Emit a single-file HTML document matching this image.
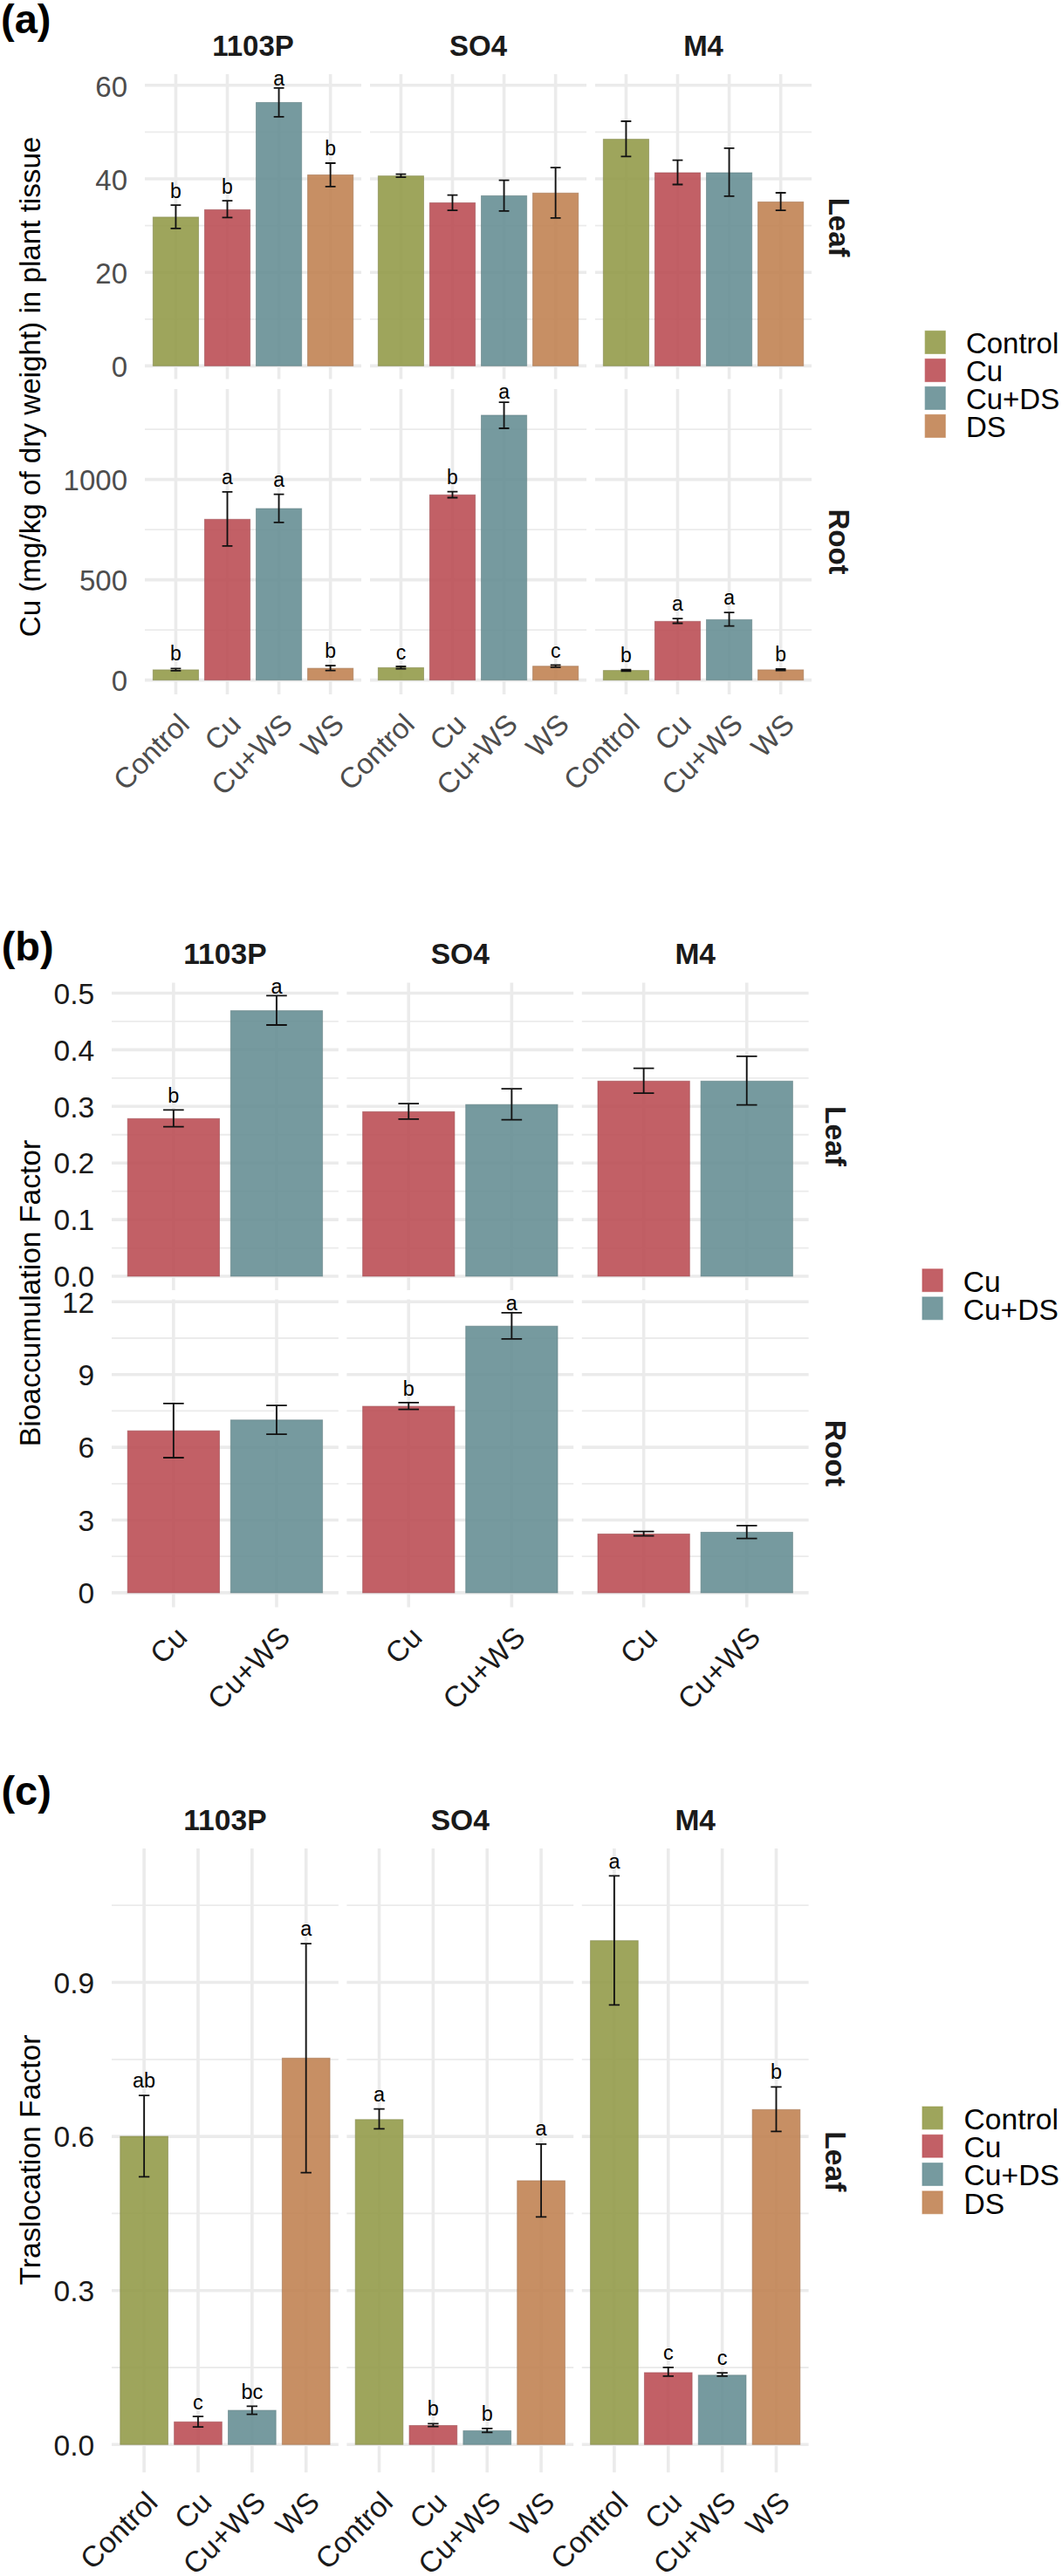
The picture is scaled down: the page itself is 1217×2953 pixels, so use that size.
<!DOCTYPE html>
<html><head><meta charset="utf-8"><title>Figure</title>
<style>
html,body{margin:0;padding:0;background:#fff;}
body{width:1217px;height:2953px;overflow:hidden;}
svg{display:block;font-family:"Liberation Sans", sans-serif;}
</style></head>
<body>
<svg width="1217" height="2953" viewBox="0 0 1217 2953">
<rect width="1217" height="2953" fill="#fff"/>
<line x1="166.00" x2="414.09" y1="365.80" y2="365.80" stroke="#EBEBEB" stroke-width="1.8"/>
<line x1="166.00" x2="414.09" y1="258.60" y2="258.60" stroke="#EBEBEB" stroke-width="1.8"/>
<line x1="166.00" x2="414.09" y1="151.40" y2="151.40" stroke="#EBEBEB" stroke-width="1.8"/>
<line x1="166.00" x2="414.09" y1="419.40" y2="419.40" stroke="#EBEBEB" stroke-width="3.6"/>
<line x1="166.00" x2="414.09" y1="312.20" y2="312.20" stroke="#EBEBEB" stroke-width="3.6"/>
<line x1="166.00" x2="414.09" y1="205.00" y2="205.00" stroke="#EBEBEB" stroke-width="3.6"/>
<line x1="166.00" x2="414.09" y1="97.80" y2="97.80" stroke="#EBEBEB" stroke-width="3.6"/>
<line x1="201.44" x2="201.44" y1="85.00" y2="434.60" stroke="#EBEBEB" stroke-width="3.6"/>
<line x1="260.51" x2="260.51" y1="85.00" y2="434.60" stroke="#EBEBEB" stroke-width="3.6"/>
<line x1="319.58" x2="319.58" y1="85.00" y2="434.60" stroke="#EBEBEB" stroke-width="3.6"/>
<line x1="378.65" x2="378.65" y1="85.00" y2="434.60" stroke="#EBEBEB" stroke-width="3.6"/>
<line x1="424.00" x2="672.09" y1="365.80" y2="365.80" stroke="#EBEBEB" stroke-width="1.8"/>
<line x1="424.00" x2="672.09" y1="258.60" y2="258.60" stroke="#EBEBEB" stroke-width="1.8"/>
<line x1="424.00" x2="672.09" y1="151.40" y2="151.40" stroke="#EBEBEB" stroke-width="1.8"/>
<line x1="424.00" x2="672.09" y1="419.40" y2="419.40" stroke="#EBEBEB" stroke-width="3.6"/>
<line x1="424.00" x2="672.09" y1="312.20" y2="312.20" stroke="#EBEBEB" stroke-width="3.6"/>
<line x1="424.00" x2="672.09" y1="205.00" y2="205.00" stroke="#EBEBEB" stroke-width="3.6"/>
<line x1="424.00" x2="672.09" y1="97.80" y2="97.80" stroke="#EBEBEB" stroke-width="3.6"/>
<line x1="459.44" x2="459.44" y1="85.00" y2="434.60" stroke="#EBEBEB" stroke-width="3.6"/>
<line x1="518.51" x2="518.51" y1="85.00" y2="434.60" stroke="#EBEBEB" stroke-width="3.6"/>
<line x1="577.58" x2="577.58" y1="85.00" y2="434.60" stroke="#EBEBEB" stroke-width="3.6"/>
<line x1="636.65" x2="636.65" y1="85.00" y2="434.60" stroke="#EBEBEB" stroke-width="3.6"/>
<line x1="682.00" x2="930.09" y1="365.80" y2="365.80" stroke="#EBEBEB" stroke-width="1.8"/>
<line x1="682.00" x2="930.09" y1="258.60" y2="258.60" stroke="#EBEBEB" stroke-width="1.8"/>
<line x1="682.00" x2="930.09" y1="151.40" y2="151.40" stroke="#EBEBEB" stroke-width="1.8"/>
<line x1="682.00" x2="930.09" y1="419.40" y2="419.40" stroke="#EBEBEB" stroke-width="3.6"/>
<line x1="682.00" x2="930.09" y1="312.20" y2="312.20" stroke="#EBEBEB" stroke-width="3.6"/>
<line x1="682.00" x2="930.09" y1="205.00" y2="205.00" stroke="#EBEBEB" stroke-width="3.6"/>
<line x1="682.00" x2="930.09" y1="97.80" y2="97.80" stroke="#EBEBEB" stroke-width="3.6"/>
<line x1="717.44" x2="717.44" y1="85.00" y2="434.60" stroke="#EBEBEB" stroke-width="3.6"/>
<line x1="776.51" x2="776.51" y1="85.00" y2="434.60" stroke="#EBEBEB" stroke-width="3.6"/>
<line x1="835.58" x2="835.58" y1="85.00" y2="434.60" stroke="#EBEBEB" stroke-width="3.6"/>
<line x1="894.65" x2="894.65" y1="85.00" y2="434.60" stroke="#EBEBEB" stroke-width="3.6"/>
<rect x="175.36" y="248.90" width="52.16" height="170.50" fill="#919946" fill-opacity="0.88" stroke="#82874B" stroke-opacity="0.6" stroke-width="1.0"/>
<path d="M195.53 235.20H207.35M201.44 235.20V261.90M195.53 261.90H207.35" stroke="#111" stroke-width="1.8" fill="none"/>
<text x="201.44" y="226.90" font-size="23.0" text-anchor="middle" fill="#000">b</text>
<rect x="234.43" y="240.40" width="52.16" height="179.00" fill="#B94A51" fill-opacity="0.88" stroke="#9E4F54" stroke-opacity="0.6" stroke-width="1.0"/>
<path d="M254.60 230.10H266.42M260.51 230.10V249.40M254.60 249.40H266.42" stroke="#111" stroke-width="1.8" fill="none"/>
<text x="260.51" y="221.80" font-size="23.0" text-anchor="middle" fill="#000">b</text>
<rect x="293.50" y="117.50" width="52.16" height="301.90" fill="#638C92" fill-opacity="0.88" stroke="#617E82" stroke-opacity="0.6" stroke-width="1.0"/>
<path d="M313.68 100.80H325.49M319.58 100.80V133.90M313.68 133.90H325.49" stroke="#111" stroke-width="1.8" fill="none"/>
<text x="319.58" y="97.60" font-size="23.0" text-anchor="middle" fill="#000">a</text>
<rect x="352.57" y="200.50" width="52.16" height="218.90" fill="#BF7F4E" fill-opacity="0.88" stroke="#A37451" stroke-opacity="0.6" stroke-width="1.0"/>
<path d="M372.75 187.00H384.56M378.65 187.00V213.90M372.75 213.90H384.56" stroke="#111" stroke-width="1.8" fill="none"/>
<text x="378.65" y="177.90" font-size="23.0" text-anchor="middle" fill="#000">b</text>
<rect x="433.36" y="201.70" width="52.16" height="217.70" fill="#919946" fill-opacity="0.88" stroke="#82874B" stroke-opacity="0.6" stroke-width="1.0"/>
<path d="M453.54 199.70H465.35M459.44 199.70V203.10M453.54 203.10H465.35" stroke="#111" stroke-width="1.8" fill="none"/>
<rect x="492.43" y="232.50" width="52.16" height="186.90" fill="#B94A51" fill-opacity="0.88" stroke="#9E4F54" stroke-opacity="0.6" stroke-width="1.0"/>
<path d="M512.61 223.70H524.42M518.51 223.70V241.10M512.61 241.10H524.42" stroke="#111" stroke-width="1.8" fill="none"/>
<rect x="551.50" y="224.40" width="52.16" height="195.00" fill="#638C92" fill-opacity="0.88" stroke="#617E82" stroke-opacity="0.6" stroke-width="1.0"/>
<path d="M571.67 206.60H583.49M577.58 206.60V241.80M571.67 241.80H583.49" stroke="#111" stroke-width="1.8" fill="none"/>
<rect x="610.57" y="221.30" width="52.16" height="198.10" fill="#BF7F4E" fill-opacity="0.88" stroke="#A37451" stroke-opacity="0.6" stroke-width="1.0"/>
<path d="M630.75 192.10H642.56M636.65 192.10V249.90M630.75 249.90H642.56" stroke="#111" stroke-width="1.8" fill="none"/>
<rect x="691.36" y="159.60" width="52.16" height="259.80" fill="#919946" fill-opacity="0.88" stroke="#82874B" stroke-opacity="0.6" stroke-width="1.0"/>
<path d="M711.53 139.00H723.35M717.44 139.00V179.40M711.53 179.40H723.35" stroke="#111" stroke-width="1.8" fill="none"/>
<rect x="750.43" y="198.00" width="52.16" height="221.40" fill="#B94A51" fill-opacity="0.88" stroke="#9E4F54" stroke-opacity="0.6" stroke-width="1.0"/>
<path d="M770.61 183.60H782.42M776.51 183.60V211.50M770.61 211.50H782.42" stroke="#111" stroke-width="1.8" fill="none"/>
<rect x="809.50" y="198.00" width="52.16" height="221.40" fill="#638C92" fill-opacity="0.88" stroke="#617E82" stroke-opacity="0.6" stroke-width="1.0"/>
<path d="M829.67 169.80H841.49M835.58 169.80V224.90M829.67 224.90H841.49" stroke="#111" stroke-width="1.8" fill="none"/>
<rect x="868.57" y="231.50" width="52.16" height="187.90" fill="#BF7F4E" fill-opacity="0.88" stroke="#A37451" stroke-opacity="0.6" stroke-width="1.0"/>
<path d="M888.75 221.00H900.56M894.65 221.00V241.10M888.75 241.10H900.56" stroke="#111" stroke-width="1.8" fill="none"/>
<line x1="166.00" x2="414.09" y1="722.10" y2="722.10" stroke="#EBEBEB" stroke-width="1.8"/>
<line x1="166.00" x2="414.09" y1="607.10" y2="607.10" stroke="#EBEBEB" stroke-width="1.8"/>
<line x1="166.00" x2="414.09" y1="492.10" y2="492.10" stroke="#EBEBEB" stroke-width="1.8"/>
<line x1="166.00" x2="414.09" y1="779.60" y2="779.60" stroke="#EBEBEB" stroke-width="3.6"/>
<line x1="166.00" x2="414.09" y1="664.60" y2="664.60" stroke="#EBEBEB" stroke-width="3.6"/>
<line x1="166.00" x2="414.09" y1="549.60" y2="549.60" stroke="#EBEBEB" stroke-width="3.6"/>
<line x1="201.44" x2="201.44" y1="445.90" y2="796.00" stroke="#EBEBEB" stroke-width="3.6"/>
<line x1="260.51" x2="260.51" y1="445.90" y2="796.00" stroke="#EBEBEB" stroke-width="3.6"/>
<line x1="319.58" x2="319.58" y1="445.90" y2="796.00" stroke="#EBEBEB" stroke-width="3.6"/>
<line x1="378.65" x2="378.65" y1="445.90" y2="796.00" stroke="#EBEBEB" stroke-width="3.6"/>
<line x1="424.00" x2="672.09" y1="722.10" y2="722.10" stroke="#EBEBEB" stroke-width="1.8"/>
<line x1="424.00" x2="672.09" y1="607.10" y2="607.10" stroke="#EBEBEB" stroke-width="1.8"/>
<line x1="424.00" x2="672.09" y1="492.10" y2="492.10" stroke="#EBEBEB" stroke-width="1.8"/>
<line x1="424.00" x2="672.09" y1="779.60" y2="779.60" stroke="#EBEBEB" stroke-width="3.6"/>
<line x1="424.00" x2="672.09" y1="664.60" y2="664.60" stroke="#EBEBEB" stroke-width="3.6"/>
<line x1="424.00" x2="672.09" y1="549.60" y2="549.60" stroke="#EBEBEB" stroke-width="3.6"/>
<line x1="459.44" x2="459.44" y1="445.90" y2="796.00" stroke="#EBEBEB" stroke-width="3.6"/>
<line x1="518.51" x2="518.51" y1="445.90" y2="796.00" stroke="#EBEBEB" stroke-width="3.6"/>
<line x1="577.58" x2="577.58" y1="445.90" y2="796.00" stroke="#EBEBEB" stroke-width="3.6"/>
<line x1="636.65" x2="636.65" y1="445.90" y2="796.00" stroke="#EBEBEB" stroke-width="3.6"/>
<line x1="682.00" x2="930.09" y1="722.10" y2="722.10" stroke="#EBEBEB" stroke-width="1.8"/>
<line x1="682.00" x2="930.09" y1="607.10" y2="607.10" stroke="#EBEBEB" stroke-width="1.8"/>
<line x1="682.00" x2="930.09" y1="492.10" y2="492.10" stroke="#EBEBEB" stroke-width="1.8"/>
<line x1="682.00" x2="930.09" y1="779.60" y2="779.60" stroke="#EBEBEB" stroke-width="3.6"/>
<line x1="682.00" x2="930.09" y1="664.60" y2="664.60" stroke="#EBEBEB" stroke-width="3.6"/>
<line x1="682.00" x2="930.09" y1="549.60" y2="549.60" stroke="#EBEBEB" stroke-width="3.6"/>
<line x1="717.44" x2="717.44" y1="445.90" y2="796.00" stroke="#EBEBEB" stroke-width="3.6"/>
<line x1="776.51" x2="776.51" y1="445.90" y2="796.00" stroke="#EBEBEB" stroke-width="3.6"/>
<line x1="835.58" x2="835.58" y1="445.90" y2="796.00" stroke="#EBEBEB" stroke-width="3.6"/>
<line x1="894.65" x2="894.65" y1="445.90" y2="796.00" stroke="#EBEBEB" stroke-width="3.6"/>
<rect x="175.36" y="767.90" width="52.16" height="11.70" fill="#919946" fill-opacity="0.88" stroke="#82874B" stroke-opacity="0.6" stroke-width="1.0"/>
<path d="M195.53 766.40H207.35M201.44 766.40V768.80M195.53 768.80H207.35" stroke="#111" stroke-width="1.8" fill="none"/>
<text x="201.44" y="757.30" font-size="23.0" text-anchor="middle" fill="#000">b</text>
<rect x="234.43" y="595.30" width="52.16" height="184.30" fill="#B94A51" fill-opacity="0.88" stroke="#9E4F54" stroke-opacity="0.6" stroke-width="1.0"/>
<path d="M254.60 563.90H266.42M260.51 563.90V625.90M254.60 625.90H266.42" stroke="#111" stroke-width="1.8" fill="none"/>
<text x="260.51" y="555.40" font-size="23.0" text-anchor="middle" fill="#000">a</text>
<rect x="293.50" y="583.00" width="52.16" height="196.60" fill="#638C92" fill-opacity="0.88" stroke="#617E82" stroke-opacity="0.6" stroke-width="1.0"/>
<path d="M313.68 566.60H325.49M319.58 566.60V598.90M313.68 598.90H325.49" stroke="#111" stroke-width="1.8" fill="none"/>
<text x="319.58" y="557.80" font-size="23.0" text-anchor="middle" fill="#000">a</text>
<rect x="352.57" y="766.10" width="52.16" height="13.50" fill="#BF7F4E" fill-opacity="0.88" stroke="#A37451" stroke-opacity="0.6" stroke-width="1.0"/>
<path d="M372.75 763.00H384.56M378.65 763.00V768.60M372.75 768.60H384.56" stroke="#111" stroke-width="1.8" fill="none"/>
<text x="378.65" y="754.20" font-size="23.0" text-anchor="middle" fill="#000">b</text>
<rect x="433.36" y="765.40" width="52.16" height="14.20" fill="#919946" fill-opacity="0.88" stroke="#82874B" stroke-opacity="0.6" stroke-width="1.0"/>
<path d="M453.54 764.00H465.35M459.44 764.00V766.60M453.54 766.60H465.35" stroke="#111" stroke-width="1.8" fill="none"/>
<text x="459.44" y="755.60" font-size="23.0" text-anchor="middle" fill="#000">c</text>
<rect x="492.43" y="567.30" width="52.16" height="212.30" fill="#B94A51" fill-opacity="0.88" stroke="#9E4F54" stroke-opacity="0.6" stroke-width="1.0"/>
<path d="M512.61 563.70H524.42M518.51 563.70V570.50M512.61 570.50H524.42" stroke="#111" stroke-width="1.8" fill="none"/>
<text x="518.51" y="554.90" font-size="23.0" text-anchor="middle" fill="#000">b</text>
<rect x="551.50" y="476.00" width="52.16" height="303.60" fill="#638C92" fill-opacity="0.88" stroke="#617E82" stroke-opacity="0.6" stroke-width="1.0"/>
<path d="M571.67 461.10H583.49M577.58 461.10V491.00M571.67 491.00H583.49" stroke="#111" stroke-width="1.8" fill="none"/>
<text x="577.58" y="457.40" font-size="23.0" text-anchor="middle" fill="#000">a</text>
<rect x="610.57" y="763.70" width="52.16" height="15.90" fill="#BF7F4E" fill-opacity="0.88" stroke="#A37451" stroke-opacity="0.6" stroke-width="1.0"/>
<path d="M630.75 762.40H642.56M636.65 762.40V764.80M630.75 764.80H642.56" stroke="#111" stroke-width="1.8" fill="none"/>
<text x="636.65" y="754.20" font-size="23.0" text-anchor="middle" fill="#000">c</text>
<rect x="691.36" y="768.60" width="52.16" height="11.00" fill="#919946" fill-opacity="0.88" stroke="#82874B" stroke-opacity="0.6" stroke-width="1.0"/>
<path d="M711.53 767.60H723.35M717.44 767.60V769.40M711.53 769.40H723.35" stroke="#111" stroke-width="1.8" fill="none"/>
<text x="717.44" y="758.60" font-size="23.0" text-anchor="middle" fill="#000">b</text>
<rect x="750.43" y="712.30" width="52.16" height="67.30" fill="#B94A51" fill-opacity="0.88" stroke="#9E4F54" stroke-opacity="0.6" stroke-width="1.0"/>
<path d="M770.61 709.10H782.42M776.51 709.10V714.50M770.61 714.50H782.42" stroke="#111" stroke-width="1.8" fill="none"/>
<text x="776.51" y="700.30" font-size="23.0" text-anchor="middle" fill="#000">a</text>
<rect x="809.50" y="710.30" width="52.16" height="69.30" fill="#638C92" fill-opacity="0.88" stroke="#617E82" stroke-opacity="0.6" stroke-width="1.0"/>
<path d="M829.67 702.20H841.49M835.58 702.20V717.70M829.67 717.70H841.49" stroke="#111" stroke-width="1.8" fill="none"/>
<text x="835.58" y="693.00" font-size="23.0" text-anchor="middle" fill="#000">a</text>
<rect x="868.57" y="767.90" width="52.16" height="11.70" fill="#BF7F4E" fill-opacity="0.88" stroke="#A37451" stroke-opacity="0.6" stroke-width="1.0"/>
<path d="M888.75 766.90H900.56M894.65 766.90V768.60M888.75 768.60H900.56" stroke="#111" stroke-width="1.8" fill="none"/>
<text x="894.65" y="757.80" font-size="23.0" text-anchor="middle" fill="#000">b</text>
<text x="146.00" y="420.40" font-size="33" text-anchor="end" fill="#4D4D4D" dy="0.36em">0</text>
<text x="146.00" y="313.20" font-size="33" text-anchor="end" fill="#4D4D4D" dy="0.36em">20</text>
<text x="146.00" y="206.00" font-size="33" text-anchor="end" fill="#4D4D4D" dy="0.36em">40</text>
<text x="146.00" y="98.80" font-size="33" text-anchor="end" fill="#4D4D4D" dy="0.36em">60</text>
<text x="146.00" y="780.60" font-size="33" text-anchor="end" fill="#4D4D4D" dy="0.36em">0</text>
<text x="146.00" y="665.60" font-size="33" text-anchor="end" fill="#4D4D4D" dy="0.36em">500</text>
<text x="146.00" y="550.60" font-size="33" text-anchor="end" fill="#4D4D4D" dy="0.36em">1000</text>
<text transform="translate(218.94,832.40) rotate(-45)" font-size="33" text-anchor="end" fill="#4D4D4D">Control</text>
<text transform="translate(278.01,832.40) rotate(-45)" font-size="33" text-anchor="end" fill="#4D4D4D">Cu</text>
<text transform="translate(337.08,832.40) rotate(-45)" font-size="33" text-anchor="end" fill="#4D4D4D">Cu+WS</text>
<text transform="translate(396.15,832.40) rotate(-45)" font-size="33" text-anchor="end" fill="#4D4D4D">WS</text>
<text transform="translate(476.94,832.40) rotate(-45)" font-size="33" text-anchor="end" fill="#4D4D4D">Control</text>
<text transform="translate(536.01,832.40) rotate(-45)" font-size="33" text-anchor="end" fill="#4D4D4D">Cu</text>
<text transform="translate(595.08,832.40) rotate(-45)" font-size="33" text-anchor="end" fill="#4D4D4D">Cu+WS</text>
<text transform="translate(654.15,832.40) rotate(-45)" font-size="33" text-anchor="end" fill="#4D4D4D">WS</text>
<text transform="translate(734.94,832.40) rotate(-45)" font-size="33" text-anchor="end" fill="#4D4D4D">Control</text>
<text transform="translate(794.01,832.40) rotate(-45)" font-size="33" text-anchor="end" fill="#4D4D4D">Cu</text>
<text transform="translate(853.08,832.40) rotate(-45)" font-size="33" text-anchor="end" fill="#4D4D4D">Cu+WS</text>
<text transform="translate(912.15,832.40) rotate(-45)" font-size="33" text-anchor="end" fill="#4D4D4D">WS</text>
<text x="290.05" y="64.20" font-size="33" font-weight="bold" text-anchor="middle" fill="#1A1A1A">1103P</text>
<text x="548.05" y="64.20" font-size="33" font-weight="bold" text-anchor="middle" fill="#1A1A1A">SO4</text>
<text x="806.05" y="64.20" font-size="33" font-weight="bold" text-anchor="middle" fill="#1A1A1A">M4</text>
<text transform="translate(950.10,260.60) rotate(90)" font-size="33" font-weight="bold" text-anchor="middle" fill="#1A1A1A">Leaf</text>
<text transform="translate(950.10,621.00) rotate(90)" font-size="33" font-weight="bold" text-anchor="middle" fill="#1A1A1A">Root</text>
<text transform="translate(45.90,443.50) rotate(-90)" font-size="33.2" text-anchor="middle" fill="#000">Cu (mg/kg of dry weight) in plant tissue</text>
<text x="1.00" y="38.30" font-size="47" font-weight="bold" fill="#000">(a)</text>
<rect x="1060.20" y="379.40" width="23.10" height="26.00" fill="#919946" fill-opacity="0.88" stroke="#919946" stroke-opacity="0.55" stroke-width="1.2"/>
<text x="1106.90" y="404.90" font-size="33" fill="#000">Control</text>
<rect x="1060.20" y="411.50" width="23.10" height="26.00" fill="#B94A51" fill-opacity="0.88" stroke="#B94A51" stroke-opacity="0.55" stroke-width="1.2"/>
<text x="1106.90" y="436.80" font-size="33" fill="#000">Cu</text>
<rect x="1060.20" y="443.40" width="23.10" height="26.00" fill="#638C92" fill-opacity="0.88" stroke="#638C92" stroke-opacity="0.55" stroke-width="1.2"/>
<text x="1106.90" y="468.80" font-size="33" fill="#000">Cu+DS</text>
<rect x="1060.20" y="475.40" width="23.10" height="26.00" fill="#BF7F4E" fill-opacity="0.88" stroke="#BF7F4E" stroke-opacity="0.55" stroke-width="1.2"/>
<text x="1106.90" y="500.50" font-size="33" fill="#000">DS</text>
<line x1="128.00" x2="387.82" y1="1430.55" y2="1430.55" stroke="#EBEBEB" stroke-width="1.8"/>
<line x1="128.00" x2="387.82" y1="1365.65" y2="1365.65" stroke="#EBEBEB" stroke-width="1.8"/>
<line x1="128.00" x2="387.82" y1="1300.75" y2="1300.75" stroke="#EBEBEB" stroke-width="1.8"/>
<line x1="128.00" x2="387.82" y1="1235.85" y2="1235.85" stroke="#EBEBEB" stroke-width="1.8"/>
<line x1="128.00" x2="387.82" y1="1170.95" y2="1170.95" stroke="#EBEBEB" stroke-width="1.8"/>
<line x1="128.00" x2="387.82" y1="1463.00" y2="1463.00" stroke="#EBEBEB" stroke-width="3.6"/>
<line x1="128.00" x2="387.82" y1="1398.10" y2="1398.10" stroke="#EBEBEB" stroke-width="3.6"/>
<line x1="128.00" x2="387.82" y1="1333.20" y2="1333.20" stroke="#EBEBEB" stroke-width="3.6"/>
<line x1="128.00" x2="387.82" y1="1268.30" y2="1268.30" stroke="#EBEBEB" stroke-width="3.6"/>
<line x1="128.00" x2="387.82" y1="1203.40" y2="1203.40" stroke="#EBEBEB" stroke-width="3.6"/>
<line x1="128.00" x2="387.82" y1="1138.50" y2="1138.50" stroke="#EBEBEB" stroke-width="3.6"/>
<line x1="198.86" x2="198.86" y1="1126.40" y2="1479.10" stroke="#EBEBEB" stroke-width="3.6"/>
<line x1="316.96" x2="316.96" y1="1126.40" y2="1479.10" stroke="#EBEBEB" stroke-width="3.6"/>
<line x1="397.40" x2="657.22" y1="1430.55" y2="1430.55" stroke="#EBEBEB" stroke-width="1.8"/>
<line x1="397.40" x2="657.22" y1="1365.65" y2="1365.65" stroke="#EBEBEB" stroke-width="1.8"/>
<line x1="397.40" x2="657.22" y1="1300.75" y2="1300.75" stroke="#EBEBEB" stroke-width="1.8"/>
<line x1="397.40" x2="657.22" y1="1235.85" y2="1235.85" stroke="#EBEBEB" stroke-width="1.8"/>
<line x1="397.40" x2="657.22" y1="1170.95" y2="1170.95" stroke="#EBEBEB" stroke-width="1.8"/>
<line x1="397.40" x2="657.22" y1="1463.00" y2="1463.00" stroke="#EBEBEB" stroke-width="3.6"/>
<line x1="397.40" x2="657.22" y1="1398.10" y2="1398.10" stroke="#EBEBEB" stroke-width="3.6"/>
<line x1="397.40" x2="657.22" y1="1333.20" y2="1333.20" stroke="#EBEBEB" stroke-width="3.6"/>
<line x1="397.40" x2="657.22" y1="1268.30" y2="1268.30" stroke="#EBEBEB" stroke-width="3.6"/>
<line x1="397.40" x2="657.22" y1="1203.40" y2="1203.40" stroke="#EBEBEB" stroke-width="3.6"/>
<line x1="397.40" x2="657.22" y1="1138.50" y2="1138.50" stroke="#EBEBEB" stroke-width="3.6"/>
<line x1="468.26" x2="468.26" y1="1126.40" y2="1479.10" stroke="#EBEBEB" stroke-width="3.6"/>
<line x1="586.36" x2="586.36" y1="1126.40" y2="1479.10" stroke="#EBEBEB" stroke-width="3.6"/>
<line x1="666.80" x2="926.62" y1="1430.55" y2="1430.55" stroke="#EBEBEB" stroke-width="1.8"/>
<line x1="666.80" x2="926.62" y1="1365.65" y2="1365.65" stroke="#EBEBEB" stroke-width="1.8"/>
<line x1="666.80" x2="926.62" y1="1300.75" y2="1300.75" stroke="#EBEBEB" stroke-width="1.8"/>
<line x1="666.80" x2="926.62" y1="1235.85" y2="1235.85" stroke="#EBEBEB" stroke-width="1.8"/>
<line x1="666.80" x2="926.62" y1="1170.95" y2="1170.95" stroke="#EBEBEB" stroke-width="1.8"/>
<line x1="666.80" x2="926.62" y1="1463.00" y2="1463.00" stroke="#EBEBEB" stroke-width="3.6"/>
<line x1="666.80" x2="926.62" y1="1398.10" y2="1398.10" stroke="#EBEBEB" stroke-width="3.6"/>
<line x1="666.80" x2="926.62" y1="1333.20" y2="1333.20" stroke="#EBEBEB" stroke-width="3.6"/>
<line x1="666.80" x2="926.62" y1="1268.30" y2="1268.30" stroke="#EBEBEB" stroke-width="3.6"/>
<line x1="666.80" x2="926.62" y1="1203.40" y2="1203.40" stroke="#EBEBEB" stroke-width="3.6"/>
<line x1="666.80" x2="926.62" y1="1138.50" y2="1138.50" stroke="#EBEBEB" stroke-width="3.6"/>
<line x1="737.66" x2="737.66" y1="1126.40" y2="1479.10" stroke="#EBEBEB" stroke-width="3.6"/>
<line x1="855.76" x2="855.76" y1="1126.40" y2="1479.10" stroke="#EBEBEB" stroke-width="3.6"/>
<rect x="146.22" y="1282.30" width="105.29" height="180.70" fill="#B94A51" fill-opacity="0.88" stroke="#9E4F54" stroke-opacity="0.6" stroke-width="1.0"/>
<path d="M187.05 1272.40H210.67M198.86 1272.40V1291.60M187.05 1291.60H210.67" stroke="#111" stroke-width="1.8" fill="none"/>
<text x="198.86" y="1263.90" font-size="23.5" text-anchor="middle" fill="#000">b</text>
<rect x="264.32" y="1158.60" width="105.29" height="304.40" fill="#638C92" fill-opacity="0.88" stroke="#617E82" stroke-opacity="0.6" stroke-width="1.0"/>
<path d="M305.15 1141.40H328.77M316.96 1141.40V1175.00M305.15 1175.00H328.77" stroke="#111" stroke-width="1.8" fill="none"/>
<text x="316.96" y="1138.70" font-size="23.5" text-anchor="middle" fill="#000">a</text>
<rect x="415.62" y="1274.40" width="105.29" height="188.60" fill="#B94A51" fill-opacity="0.88" stroke="#9E4F54" stroke-opacity="0.6" stroke-width="1.0"/>
<path d="M456.45 1265.10H480.07M468.26 1265.10V1282.90M456.45 1282.90H480.07" stroke="#111" stroke-width="1.8" fill="none"/>
<rect x="533.72" y="1266.20" width="105.29" height="196.80" fill="#638C92" fill-opacity="0.88" stroke="#617E82" stroke-opacity="0.6" stroke-width="1.0"/>
<path d="M574.55 1248.10H598.17M586.36 1248.10V1283.70M574.55 1283.70H598.17" stroke="#111" stroke-width="1.8" fill="none"/>
<rect x="685.01" y="1239.30" width="105.29" height="223.70" fill="#B94A51" fill-opacity="0.88" stroke="#9E4F54" stroke-opacity="0.6" stroke-width="1.0"/>
<path d="M725.85 1224.60H749.47M737.66 1224.60V1253.20M725.85 1253.20H749.47" stroke="#111" stroke-width="1.8" fill="none"/>
<rect x="803.12" y="1239.30" width="105.29" height="223.70" fill="#638C92" fill-opacity="0.88" stroke="#617E82" stroke-opacity="0.6" stroke-width="1.0"/>
<path d="M843.95 1210.80H867.57M855.76 1210.80V1266.70M843.95 1266.70H867.57" stroke="#111" stroke-width="1.8" fill="none"/>
<line x1="128.00" x2="387.82" y1="1784.20" y2="1784.20" stroke="#EBEBEB" stroke-width="1.8"/>
<line x1="128.00" x2="387.82" y1="1700.80" y2="1700.80" stroke="#EBEBEB" stroke-width="1.8"/>
<line x1="128.00" x2="387.82" y1="1617.40" y2="1617.40" stroke="#EBEBEB" stroke-width="1.8"/>
<line x1="128.00" x2="387.82" y1="1534.00" y2="1534.00" stroke="#EBEBEB" stroke-width="1.8"/>
<line x1="128.00" x2="387.82" y1="1825.90" y2="1825.90" stroke="#EBEBEB" stroke-width="3.6"/>
<line x1="128.00" x2="387.82" y1="1742.50" y2="1742.50" stroke="#EBEBEB" stroke-width="3.6"/>
<line x1="128.00" x2="387.82" y1="1659.10" y2="1659.10" stroke="#EBEBEB" stroke-width="3.6"/>
<line x1="128.00" x2="387.82" y1="1575.70" y2="1575.70" stroke="#EBEBEB" stroke-width="3.6"/>
<line x1="128.00" x2="387.82" y1="1492.30" y2="1492.30" stroke="#EBEBEB" stroke-width="3.6"/>
<line x1="198.86" x2="198.86" y1="1489.50" y2="1842.60" stroke="#EBEBEB" stroke-width="3.6"/>
<line x1="316.96" x2="316.96" y1="1489.50" y2="1842.60" stroke="#EBEBEB" stroke-width="3.6"/>
<line x1="397.40" x2="657.22" y1="1784.20" y2="1784.20" stroke="#EBEBEB" stroke-width="1.8"/>
<line x1="397.40" x2="657.22" y1="1700.80" y2="1700.80" stroke="#EBEBEB" stroke-width="1.8"/>
<line x1="397.40" x2="657.22" y1="1617.40" y2="1617.40" stroke="#EBEBEB" stroke-width="1.8"/>
<line x1="397.40" x2="657.22" y1="1534.00" y2="1534.00" stroke="#EBEBEB" stroke-width="1.8"/>
<line x1="397.40" x2="657.22" y1="1825.90" y2="1825.90" stroke="#EBEBEB" stroke-width="3.6"/>
<line x1="397.40" x2="657.22" y1="1742.50" y2="1742.50" stroke="#EBEBEB" stroke-width="3.6"/>
<line x1="397.40" x2="657.22" y1="1659.10" y2="1659.10" stroke="#EBEBEB" stroke-width="3.6"/>
<line x1="397.40" x2="657.22" y1="1575.70" y2="1575.70" stroke="#EBEBEB" stroke-width="3.6"/>
<line x1="397.40" x2="657.22" y1="1492.30" y2="1492.30" stroke="#EBEBEB" stroke-width="3.6"/>
<line x1="468.26" x2="468.26" y1="1489.50" y2="1842.60" stroke="#EBEBEB" stroke-width="3.6"/>
<line x1="586.36" x2="586.36" y1="1489.50" y2="1842.60" stroke="#EBEBEB" stroke-width="3.6"/>
<line x1="666.80" x2="926.62" y1="1784.20" y2="1784.20" stroke="#EBEBEB" stroke-width="1.8"/>
<line x1="666.80" x2="926.62" y1="1700.80" y2="1700.80" stroke="#EBEBEB" stroke-width="1.8"/>
<line x1="666.80" x2="926.62" y1="1617.40" y2="1617.40" stroke="#EBEBEB" stroke-width="1.8"/>
<line x1="666.80" x2="926.62" y1="1534.00" y2="1534.00" stroke="#EBEBEB" stroke-width="1.8"/>
<line x1="666.80" x2="926.62" y1="1825.90" y2="1825.90" stroke="#EBEBEB" stroke-width="3.6"/>
<line x1="666.80" x2="926.62" y1="1742.50" y2="1742.50" stroke="#EBEBEB" stroke-width="3.6"/>
<line x1="666.80" x2="926.62" y1="1659.10" y2="1659.10" stroke="#EBEBEB" stroke-width="3.6"/>
<line x1="666.80" x2="926.62" y1="1575.70" y2="1575.70" stroke="#EBEBEB" stroke-width="3.6"/>
<line x1="666.80" x2="926.62" y1="1492.30" y2="1492.30" stroke="#EBEBEB" stroke-width="3.6"/>
<line x1="737.66" x2="737.66" y1="1489.50" y2="1842.60" stroke="#EBEBEB" stroke-width="3.6"/>
<line x1="855.76" x2="855.76" y1="1489.50" y2="1842.60" stroke="#EBEBEB" stroke-width="3.6"/>
<rect x="146.22" y="1640.20" width="105.29" height="185.70" fill="#B94A51" fill-opacity="0.88" stroke="#9E4F54" stroke-opacity="0.6" stroke-width="1.0"/>
<path d="M187.05 1608.90H210.67M198.86 1608.90V1671.00M187.05 1671.00H210.67" stroke="#111" stroke-width="1.8" fill="none"/>
<rect x="264.32" y="1627.80" width="105.29" height="198.10" fill="#638C92" fill-opacity="0.88" stroke="#617E82" stroke-opacity="0.6" stroke-width="1.0"/>
<path d="M305.15 1611.10H328.77M316.96 1611.10V1644.10M305.15 1644.10H328.77" stroke="#111" stroke-width="1.8" fill="none"/>
<rect x="415.62" y="1612.10" width="105.29" height="213.80" fill="#B94A51" fill-opacity="0.88" stroke="#9E4F54" stroke-opacity="0.6" stroke-width="1.0"/>
<path d="M456.45 1607.90H480.07M468.26 1607.90V1615.60M456.45 1615.60H480.07" stroke="#111" stroke-width="1.8" fill="none"/>
<text x="468.26" y="1599.80" font-size="23.5" text-anchor="middle" fill="#000">b</text>
<rect x="533.72" y="1520.20" width="105.29" height="305.70" fill="#638C92" fill-opacity="0.88" stroke="#617E82" stroke-opacity="0.6" stroke-width="1.0"/>
<path d="M574.55 1504.80H598.17M586.36 1504.80V1534.90M574.55 1534.90H598.17" stroke="#111" stroke-width="1.8" fill="none"/>
<text x="586.36" y="1502.10" font-size="23.5" text-anchor="middle" fill="#000">a</text>
<rect x="685.01" y="1758.50" width="105.29" height="67.40" fill="#B94A51" fill-opacity="0.88" stroke="#9E4F54" stroke-opacity="0.6" stroke-width="1.0"/>
<path d="M725.85 1755.60H749.47M737.66 1755.60V1760.70M725.85 1760.70H749.47" stroke="#111" stroke-width="1.8" fill="none"/>
<rect x="803.12" y="1756.50" width="105.29" height="69.40" fill="#638C92" fill-opacity="0.88" stroke="#617E82" stroke-opacity="0.6" stroke-width="1.0"/>
<path d="M843.95 1748.90H867.57M855.76 1748.90V1763.60M843.95 1763.60H867.57" stroke="#111" stroke-width="1.8" fill="none"/>
<text x="108.30" y="1463.20" font-size="33.6" text-anchor="end" fill="#1A1A1A" dy="0.36em">0.0</text>
<text x="108.30" y="1398.30" font-size="33.6" text-anchor="end" fill="#1A1A1A" dy="0.36em">0.1</text>
<text x="108.30" y="1333.40" font-size="33.6" text-anchor="end" fill="#1A1A1A" dy="0.36em">0.2</text>
<text x="108.30" y="1268.50" font-size="33.6" text-anchor="end" fill="#1A1A1A" dy="0.36em">0.3</text>
<text x="108.30" y="1203.60" font-size="33.6" text-anchor="end" fill="#1A1A1A" dy="0.36em">0.4</text>
<text x="108.30" y="1138.70" font-size="33.6" text-anchor="end" fill="#1A1A1A" dy="0.36em">0.5</text>
<text x="108.30" y="1826.10" font-size="33.6" text-anchor="end" fill="#1A1A1A" dy="0.36em">0</text>
<text x="108.30" y="1742.70" font-size="33.6" text-anchor="end" fill="#1A1A1A" dy="0.36em">3</text>
<text x="108.30" y="1659.30" font-size="33.6" text-anchor="end" fill="#1A1A1A" dy="0.36em">6</text>
<text x="108.30" y="1575.90" font-size="33.6" text-anchor="end" fill="#1A1A1A" dy="0.36em">9</text>
<text x="108.30" y="1492.50" font-size="33.6" text-anchor="end" fill="#1A1A1A" dy="0.36em">12</text>
<text transform="translate(216.36,1879.00) rotate(-45)" font-size="33.6" text-anchor="end" fill="#1A1A1A">Cu</text>
<text transform="translate(334.46,1879.00) rotate(-45)" font-size="33.6" text-anchor="end" fill="#1A1A1A">Cu+WS</text>
<text transform="translate(485.76,1879.00) rotate(-45)" font-size="33.6" text-anchor="end" fill="#1A1A1A">Cu</text>
<text transform="translate(603.86,1879.00) rotate(-45)" font-size="33.6" text-anchor="end" fill="#1A1A1A">Cu+WS</text>
<text transform="translate(755.16,1879.00) rotate(-45)" font-size="33.6" text-anchor="end" fill="#1A1A1A">Cu</text>
<text transform="translate(873.26,1879.00) rotate(-45)" font-size="33.6" text-anchor="end" fill="#1A1A1A">Cu+WS</text>
<text x="257.91" y="1105.20" font-size="33.6" font-weight="bold" text-anchor="middle" fill="#1A1A1A">1103P</text>
<text x="527.31" y="1105.20" font-size="33.6" font-weight="bold" text-anchor="middle" fill="#1A1A1A">SO4</text>
<text x="796.71" y="1105.20" font-size="33.6" font-weight="bold" text-anchor="middle" fill="#1A1A1A">M4</text>
<text transform="translate(946.20,1302.50) rotate(90)" font-size="33.6" font-weight="bold" text-anchor="middle" fill="#1A1A1A">Leaf</text>
<text transform="translate(946.20,1666.00) rotate(90)" font-size="33.6" font-weight="bold" text-anchor="middle" fill="#1A1A1A">Root</text>
<text transform="translate(45.90,1482.50) rotate(-90)" font-size="33.65" text-anchor="middle" fill="#000">Bioaccumulation Factor</text>
<text x="1.70" y="1101.00" font-size="47" font-weight="bold" fill="#000">(b)</text>
<rect x="1057.00" y="1454.80" width="23.20" height="25.80" fill="#B94A51" fill-opacity="0.88" stroke="#B94A51" stroke-opacity="0.55" stroke-width="1.2"/>
<text x="1103.70" y="1480.50" font-size="33.6" fill="#000">Cu</text>
<rect x="1057.00" y="1486.90" width="23.20" height="25.80" fill="#638C92" fill-opacity="0.88" stroke="#638C92" stroke-opacity="0.55" stroke-width="1.2"/>
<text x="1103.70" y="1512.70" font-size="33.6" fill="#000">Cu+DS</text>
<line x1="128.00" x2="387.82" y1="2714.00" y2="2714.00" stroke="#EBEBEB" stroke-width="1.8"/>
<line x1="128.00" x2="387.82" y1="2537.39" y2="2537.39" stroke="#EBEBEB" stroke-width="1.8"/>
<line x1="128.00" x2="387.82" y1="2360.78" y2="2360.78" stroke="#EBEBEB" stroke-width="1.8"/>
<line x1="128.00" x2="387.82" y1="2184.16" y2="2184.16" stroke="#EBEBEB" stroke-width="1.8"/>
<line x1="128.00" x2="387.82" y1="2802.30" y2="2802.30" stroke="#EBEBEB" stroke-width="3.6"/>
<line x1="128.00" x2="387.82" y1="2625.69" y2="2625.69" stroke="#EBEBEB" stroke-width="3.6"/>
<line x1="128.00" x2="387.82" y1="2449.08" y2="2449.08" stroke="#EBEBEB" stroke-width="3.6"/>
<line x1="128.00" x2="387.82" y1="2272.47" y2="2272.47" stroke="#EBEBEB" stroke-width="3.6"/>
<line x1="165.12" x2="165.12" y1="2118.90" y2="2834.30" stroke="#EBEBEB" stroke-width="3.6"/>
<line x1="226.98" x2="226.98" y1="2118.90" y2="2834.30" stroke="#EBEBEB" stroke-width="3.6"/>
<line x1="288.84" x2="288.84" y1="2118.90" y2="2834.30" stroke="#EBEBEB" stroke-width="3.6"/>
<line x1="350.70" x2="350.70" y1="2118.90" y2="2834.30" stroke="#EBEBEB" stroke-width="3.6"/>
<line x1="397.40" x2="657.22" y1="2714.00" y2="2714.00" stroke="#EBEBEB" stroke-width="1.8"/>
<line x1="397.40" x2="657.22" y1="2537.39" y2="2537.39" stroke="#EBEBEB" stroke-width="1.8"/>
<line x1="397.40" x2="657.22" y1="2360.78" y2="2360.78" stroke="#EBEBEB" stroke-width="1.8"/>
<line x1="397.40" x2="657.22" y1="2184.16" y2="2184.16" stroke="#EBEBEB" stroke-width="1.8"/>
<line x1="397.40" x2="657.22" y1="2802.30" y2="2802.30" stroke="#EBEBEB" stroke-width="3.6"/>
<line x1="397.40" x2="657.22" y1="2625.69" y2="2625.69" stroke="#EBEBEB" stroke-width="3.6"/>
<line x1="397.40" x2="657.22" y1="2449.08" y2="2449.08" stroke="#EBEBEB" stroke-width="3.6"/>
<line x1="397.40" x2="657.22" y1="2272.47" y2="2272.47" stroke="#EBEBEB" stroke-width="3.6"/>
<line x1="434.52" x2="434.52" y1="2118.90" y2="2834.30" stroke="#EBEBEB" stroke-width="3.6"/>
<line x1="496.38" x2="496.38" y1="2118.90" y2="2834.30" stroke="#EBEBEB" stroke-width="3.6"/>
<line x1="558.24" x2="558.24" y1="2118.90" y2="2834.30" stroke="#EBEBEB" stroke-width="3.6"/>
<line x1="620.10" x2="620.10" y1="2118.90" y2="2834.30" stroke="#EBEBEB" stroke-width="3.6"/>
<line x1="666.80" x2="926.62" y1="2714.00" y2="2714.00" stroke="#EBEBEB" stroke-width="1.8"/>
<line x1="666.80" x2="926.62" y1="2537.39" y2="2537.39" stroke="#EBEBEB" stroke-width="1.8"/>
<line x1="666.80" x2="926.62" y1="2360.78" y2="2360.78" stroke="#EBEBEB" stroke-width="1.8"/>
<line x1="666.80" x2="926.62" y1="2184.16" y2="2184.16" stroke="#EBEBEB" stroke-width="1.8"/>
<line x1="666.80" x2="926.62" y1="2802.30" y2="2802.30" stroke="#EBEBEB" stroke-width="3.6"/>
<line x1="666.80" x2="926.62" y1="2625.69" y2="2625.69" stroke="#EBEBEB" stroke-width="3.6"/>
<line x1="666.80" x2="926.62" y1="2449.08" y2="2449.08" stroke="#EBEBEB" stroke-width="3.6"/>
<line x1="666.80" x2="926.62" y1="2272.47" y2="2272.47" stroke="#EBEBEB" stroke-width="3.6"/>
<line x1="703.92" x2="703.92" y1="2118.90" y2="2834.30" stroke="#EBEBEB" stroke-width="3.6"/>
<line x1="765.78" x2="765.78" y1="2118.90" y2="2834.30" stroke="#EBEBEB" stroke-width="3.6"/>
<line x1="827.64" x2="827.64" y1="2118.90" y2="2834.30" stroke="#EBEBEB" stroke-width="3.6"/>
<line x1="889.50" x2="889.50" y1="2118.90" y2="2834.30" stroke="#EBEBEB" stroke-width="3.6"/>
<rect x="137.78" y="2449.00" width="54.68" height="353.30" fill="#919946" fill-opacity="0.88" stroke="#82874B" stroke-opacity="0.6" stroke-width="1.0"/>
<path d="M158.93 2402.20H171.30M165.12 2402.20V2495.40M158.93 2495.40H171.30" stroke="#111" stroke-width="1.8" fill="none"/>
<text x="165.12" y="2393.40" font-size="23.5" text-anchor="middle" fill="#000">ab</text>
<rect x="199.64" y="2776.30" width="54.68" height="26.00" fill="#B94A51" fill-opacity="0.88" stroke="#9E4F54" stroke-opacity="0.6" stroke-width="1.0"/>
<path d="M220.79 2770.20H233.17M226.98 2770.20V2782.10M220.79 2782.10H233.17" stroke="#111" stroke-width="1.8" fill="none"/>
<text x="226.98" y="2761.50" font-size="23.5" text-anchor="middle" fill="#000">c</text>
<rect x="261.50" y="2763.10" width="54.68" height="39.20" fill="#638C92" fill-opacity="0.88" stroke="#617E82" stroke-opacity="0.6" stroke-width="1.0"/>
<path d="M282.65 2758.40H295.03M288.84 2758.40V2767.60M282.65 2767.60H295.03" stroke="#111" stroke-width="1.8" fill="none"/>
<text x="288.84" y="2749.70" font-size="23.5" text-anchor="middle" fill="#000">bc</text>
<rect x="323.37" y="2359.30" width="54.68" height="443.00" fill="#BF7F4E" fill-opacity="0.88" stroke="#A37451" stroke-opacity="0.6" stroke-width="1.0"/>
<path d="M344.52 2228.10H356.89M350.70 2228.10V2490.60M344.52 2490.60H356.89" stroke="#111" stroke-width="1.8" fill="none"/>
<text x="350.70" y="2219.00" font-size="23.5" text-anchor="middle" fill="#000">a</text>
<rect x="407.18" y="2429.80" width="54.68" height="372.50" fill="#919946" fill-opacity="0.88" stroke="#82874B" stroke-opacity="0.6" stroke-width="1.0"/>
<path d="M428.33 2417.70H440.70M434.52 2417.70V2440.40M428.33 2440.40H440.70" stroke="#111" stroke-width="1.8" fill="none"/>
<text x="434.52" y="2408.70" font-size="23.5" text-anchor="middle" fill="#000">a</text>
<rect x="469.04" y="2780.50" width="54.68" height="21.80" fill="#B94A51" fill-opacity="0.88" stroke="#9E4F54" stroke-opacity="0.6" stroke-width="1.0"/>
<path d="M490.19 2778.30H502.57M496.38 2778.30V2781.60M490.19 2781.60H502.57" stroke="#111" stroke-width="1.8" fill="none"/>
<text x="496.38" y="2769.40" font-size="23.5" text-anchor="middle" fill="#000">b</text>
<rect x="530.90" y="2786.50" width="54.68" height="15.80" fill="#638C92" fill-opacity="0.88" stroke="#617E82" stroke-opacity="0.6" stroke-width="1.0"/>
<path d="M552.05 2783.90H564.43M558.24 2783.90V2788.40M552.05 2788.40H564.43" stroke="#111" stroke-width="1.8" fill="none"/>
<text x="558.24" y="2774.60" font-size="23.5" text-anchor="middle" fill="#000">b</text>
<rect x="592.76" y="2499.90" width="54.68" height="302.40" fill="#BF7F4E" fill-opacity="0.88" stroke="#A37451" stroke-opacity="0.6" stroke-width="1.0"/>
<path d="M613.92 2457.80H626.29M620.10 2457.80V2541.30M613.92 2541.30H626.29" stroke="#111" stroke-width="1.8" fill="none"/>
<text x="620.10" y="2448.20" font-size="23.5" text-anchor="middle" fill="#000">a</text>
<rect x="676.58" y="2224.70" width="54.68" height="577.60" fill="#919946" fill-opacity="0.88" stroke="#82874B" stroke-opacity="0.6" stroke-width="1.0"/>
<path d="M697.73 2150.40H710.10M703.92 2150.40V2298.30M697.73 2298.30H710.10" stroke="#111" stroke-width="1.8" fill="none"/>
<text x="703.92" y="2141.60" font-size="23.5" text-anchor="middle" fill="#000">a</text>
<rect x="738.44" y="2719.90" width="54.68" height="82.40" fill="#B94A51" fill-opacity="0.88" stroke="#9E4F54" stroke-opacity="0.6" stroke-width="1.0"/>
<path d="M759.59 2713.80H771.97M765.78 2713.80V2723.90M759.59 2723.90H771.97" stroke="#111" stroke-width="1.8" fill="none"/>
<text x="765.78" y="2705.00" font-size="23.5" text-anchor="middle" fill="#000">c</text>
<rect x="800.30" y="2722.80" width="54.68" height="79.50" fill="#638C92" fill-opacity="0.88" stroke="#617E82" stroke-opacity="0.6" stroke-width="1.0"/>
<path d="M821.45 2720.20H833.83M827.64 2720.20V2723.90M821.45 2723.90H833.83" stroke="#111" stroke-width="1.8" fill="none"/>
<text x="827.64" y="2710.80" font-size="23.5" text-anchor="middle" fill="#000">c</text>
<rect x="862.16" y="2418.30" width="54.68" height="384.00" fill="#BF7F4E" fill-opacity="0.88" stroke="#A37451" stroke-opacity="0.6" stroke-width="1.0"/>
<path d="M883.32 2392.40H895.69M889.50 2392.40V2443.30M883.32 2443.30H895.69" stroke="#111" stroke-width="1.8" fill="none"/>
<text x="889.50" y="2383.30" font-size="23.5" text-anchor="middle" fill="#000">b</text>
<text x="108.30" y="2802.50" font-size="33.6" text-anchor="end" fill="#1A1A1A" dy="0.36em">0.0</text>
<text x="108.30" y="2625.89" font-size="33.6" text-anchor="end" fill="#1A1A1A" dy="0.36em">0.3</text>
<text x="108.30" y="2449.28" font-size="33.6" text-anchor="end" fill="#1A1A1A" dy="0.36em">0.6</text>
<text x="108.30" y="2272.67" font-size="33.6" text-anchor="end" fill="#1A1A1A" dy="0.36em">0.9</text>
<text transform="translate(182.62,2870.70) rotate(-45)" font-size="33.6" text-anchor="end" fill="#1A1A1A">Control</text>
<text transform="translate(244.48,2870.70) rotate(-45)" font-size="33.6" text-anchor="end" fill="#1A1A1A">Cu</text>
<text transform="translate(306.34,2870.70) rotate(-45)" font-size="33.6" text-anchor="end" fill="#1A1A1A">Cu+WS</text>
<text transform="translate(368.20,2870.70) rotate(-45)" font-size="33.6" text-anchor="end" fill="#1A1A1A">WS</text>
<text transform="translate(452.02,2870.70) rotate(-45)" font-size="33.6" text-anchor="end" fill="#1A1A1A">Control</text>
<text transform="translate(513.88,2870.70) rotate(-45)" font-size="33.6" text-anchor="end" fill="#1A1A1A">Cu</text>
<text transform="translate(575.74,2870.70) rotate(-45)" font-size="33.6" text-anchor="end" fill="#1A1A1A">Cu+WS</text>
<text transform="translate(637.60,2870.70) rotate(-45)" font-size="33.6" text-anchor="end" fill="#1A1A1A">WS</text>
<text transform="translate(721.42,2870.70) rotate(-45)" font-size="33.6" text-anchor="end" fill="#1A1A1A">Control</text>
<text transform="translate(783.28,2870.70) rotate(-45)" font-size="33.6" text-anchor="end" fill="#1A1A1A">Cu</text>
<text transform="translate(845.14,2870.70) rotate(-45)" font-size="33.6" text-anchor="end" fill="#1A1A1A">Cu+WS</text>
<text transform="translate(907.00,2870.70) rotate(-45)" font-size="33.6" text-anchor="end" fill="#1A1A1A">WS</text>
<text x="257.91" y="2097.70" font-size="33.6" font-weight="bold" text-anchor="middle" fill="#1A1A1A">1103P</text>
<text x="527.31" y="2097.70" font-size="33.6" font-weight="bold" text-anchor="middle" fill="#1A1A1A">SO4</text>
<text x="796.71" y="2097.70" font-size="33.6" font-weight="bold" text-anchor="middle" fill="#1A1A1A">M4</text>
<text transform="translate(946.20,2477.80) rotate(90)" font-size="33.6" font-weight="bold" text-anchor="middle" fill="#1A1A1A">Leaf</text>
<text transform="translate(46.10,2476.00) rotate(-90)" font-size="33.7" text-anchor="middle" fill="#000">Traslocation Factor</text>
<text x="1.40" y="2069.00" font-size="47" font-weight="bold" fill="#000">(c)</text>
<rect x="1057.00" y="2415.00" width="23.20" height="25.80" fill="#919946" fill-opacity="0.88" stroke="#919946" stroke-opacity="0.55" stroke-width="1.2"/>
<text x="1104.60" y="2441.00" font-size="33.6" fill="#000">Control</text>
<rect x="1057.00" y="2447.30" width="23.20" height="25.80" fill="#B94A51" fill-opacity="0.88" stroke="#B94A51" stroke-opacity="0.55" stroke-width="1.2"/>
<text x="1104.60" y="2473.20" font-size="33.6" fill="#000">Cu</text>
<rect x="1057.00" y="2479.60" width="23.20" height="25.80" fill="#638C92" fill-opacity="0.88" stroke="#638C92" stroke-opacity="0.55" stroke-width="1.2"/>
<text x="1104.60" y="2505.40" font-size="33.6" fill="#000">Cu+DS</text>
<rect x="1057.00" y="2511.90" width="23.20" height="25.80" fill="#BF7F4E" fill-opacity="0.88" stroke="#BF7F4E" stroke-opacity="0.55" stroke-width="1.2"/>
<text x="1104.60" y="2537.60" font-size="33.6" fill="#000">DS</text>
</svg>
</body></html>
